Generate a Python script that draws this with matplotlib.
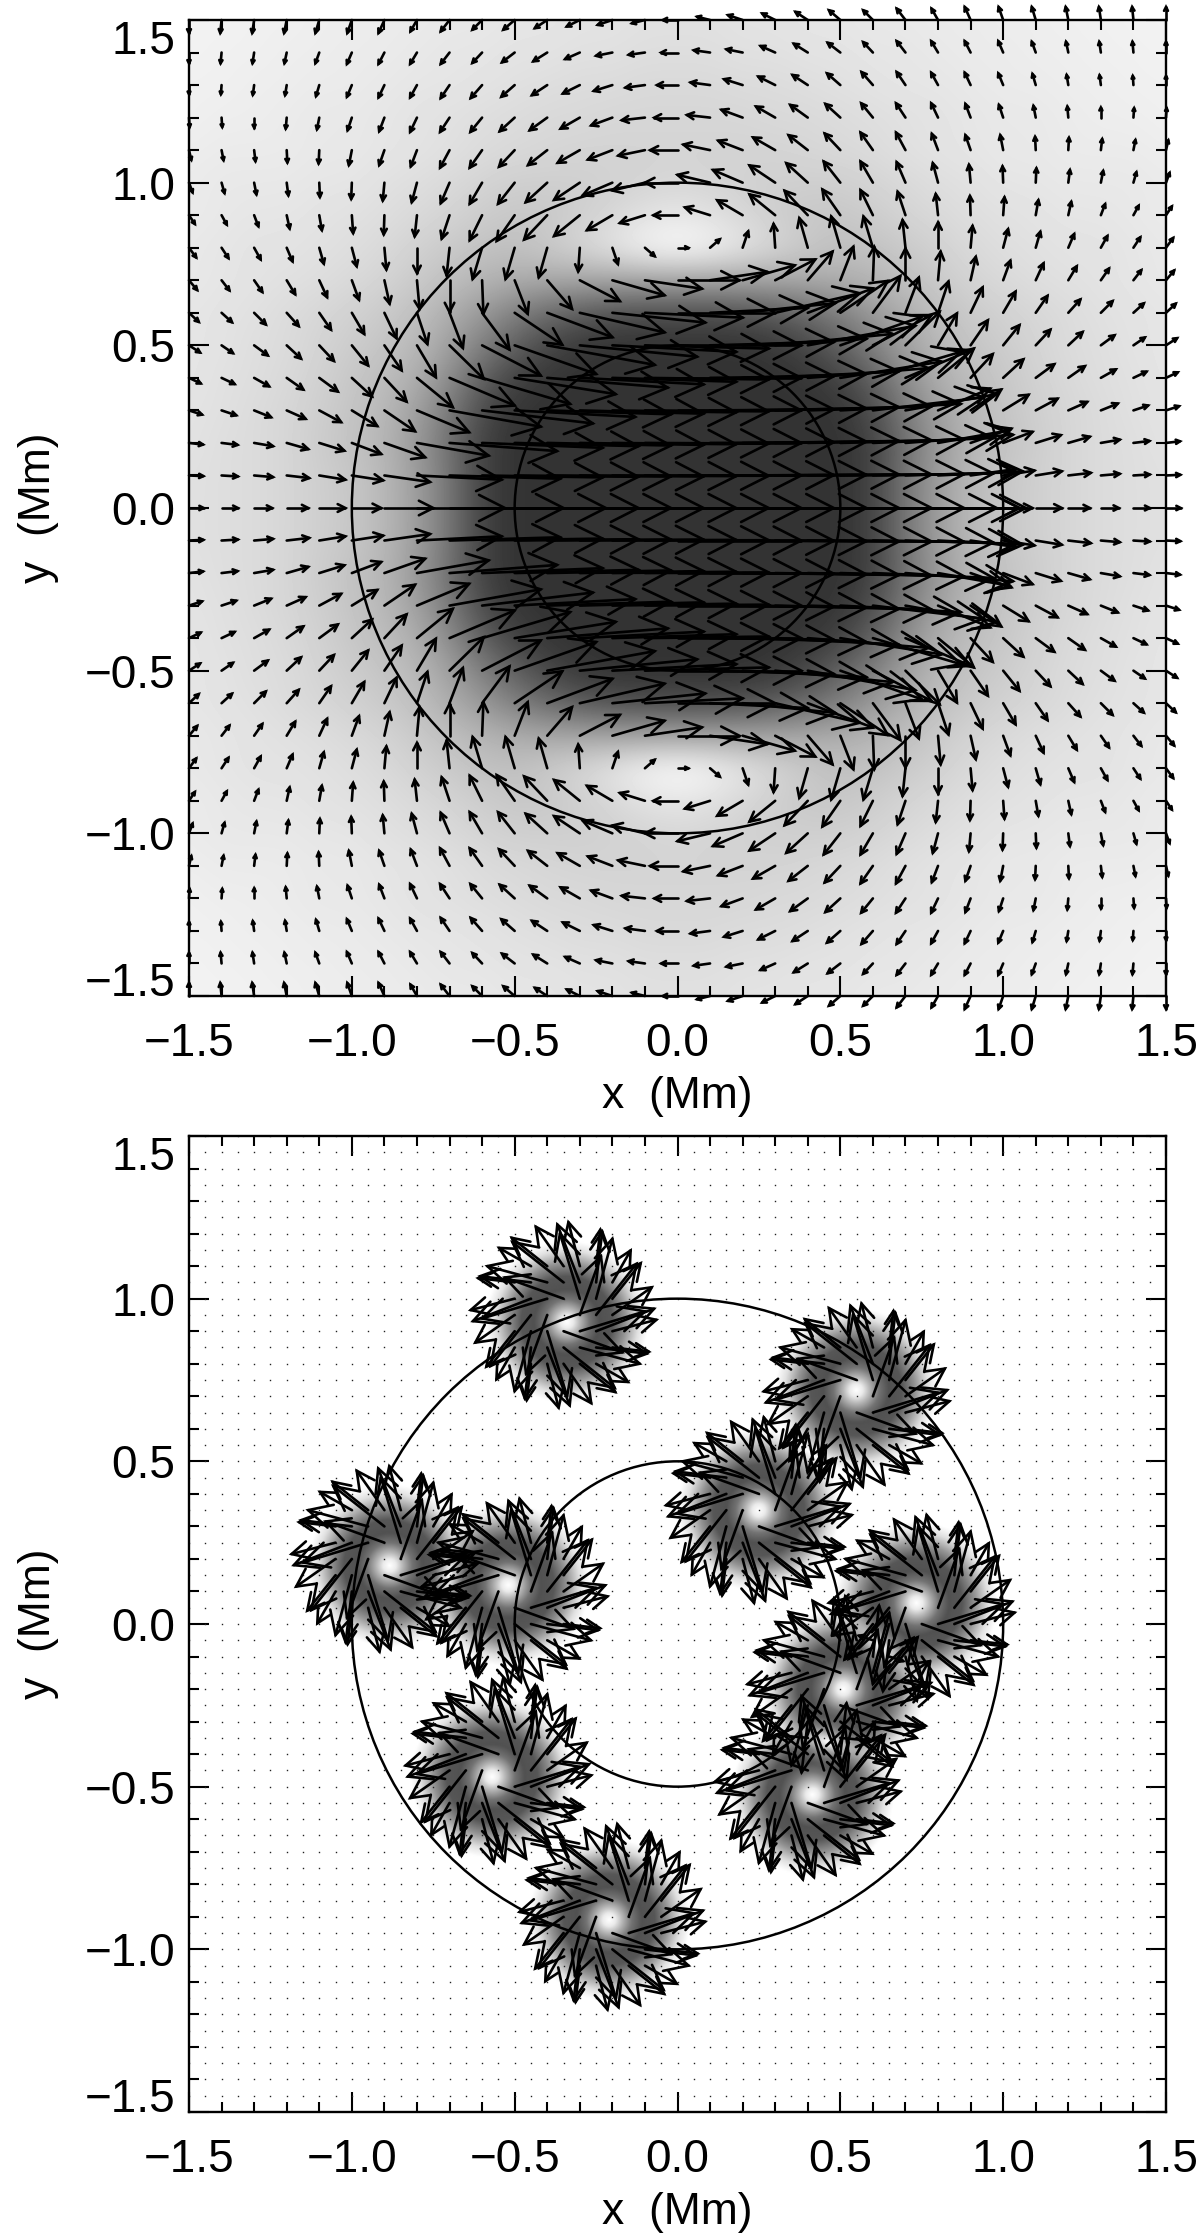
import numpy as np
import matplotlib
matplotlib.use("Agg")
from matplotlib import pyplot as plt
from matplotlib.collections import LineCollection
from matplotlib.patches import Circle

plt.rcParams['font.family'] = ['Liberation Sans', 'DejaVu Sans']

# upper panel, quadrant x>=0, y>=0 (0.001 Mm)
# rows y = 1.5 ... 0.0, columns x = 0.0 ... 1.5
top_u = [
    [-45, -40, -45, -40, -38, -35, -30, -27, -20, -18, -14, -12, -8, -6, -4, 0],
    [-50, -50, -50, -45, -43, -39, -30, -27, -21, -18, -15, -12, -7, -5, -3, 0],
    [-63, -60, -57, -52, -47, -41, -35, -27, -21, -18, -15, -10, -5, -4, -2, 0],
    [-71, -71, -65, -59, -54, -46, -36, -29, -21, -16, -13, -7, -3, 0, 2, 2],
    [-84, -82, -75, -68, -59, -48, -38, -29, -19, -16, -9, -2, 2, 4, 6, 7],
    [-100, -100, -91, -79, -66, -51, -38, -27, -16, -5, -2, 2, 5, 7, 9, 11],
    [-74, -77, -78, -79, -71, -55, -38, -24, -7, -2, 4, 8, 9, 13, 16, 18],
    [33, 30, 17, -5, -26, -28, -29, -9, 0, 6, 15, 14, 18, 20, 21, 22],
    [190, 175, 160, 123, 76, 40, 4, 0, 8, 16, 22, 24, 26, 25, 24, 25],
    [300, 300, 285, 260, 200, 146, 84, 41, 32, 37, 38, 36, 37, 36, 32, 30],
    [380, 380, 380, 360, 330, 250, 180, 105, 58, 53, 50, 45, 44, 42, 35, 34],
    [380, 380, 380, 380, 370, 310, 270, 200, 110, 68, 62, 57, 51, 46, 40, 36],
    [380, 380, 380, 380, 380, 370, 340, 280, 160, 94, 78, 67, 58, 52, 45, 40],
    [380, 380, 380, 380, 380, 380, 370, 330, 220, 125, 90, 77, 66, 58, 49, 43],
    [380, 380, 380, 380, 380, 380, 370, 340, 260, 140, 96, 80, 69, 58, 50, 44],
    [380, 380, 380, 380, 380, 380, 380, 350, 270, 150, 90, 80, 66, 55, 50, 45],
]
top_v = [
    [0, 10, 15, 20, 25, 30, 30, 35, 35, 40, 40, 40, 40, 40, 40, 40],
    [0, 7, 10, 20, 27, 30, 32, 35, 35, 35, 35, 33, 33, 33, 33, 33],
    [0, 8, 18, 26, 31, 36, 40, 40, 38, 38, 36, 34, 31, 30, 28, 28],
    [0, 8, 24, 34, 39, 42, 44, 44, 44, 42, 39, 36, 34, 31, 29, 29],
    [0, 17, 29, 39, 46, 51, 54, 54, 50, 46, 46, 41, 38, 34, 31, 30],
    [0, 24, 39, 53, 60, 65, 65, 63, 60, 55, 50, 44, 39, 36, 32, 30],
    [0, 24, 46, 64, 75, 79, 77, 72, 65, 59, 55, 46, 41, 34, 29, 27],
    [0, 26, 50, 73, 91, 96, 96, 85, 78, 67, 57, 49, 42, 36, 32, 30],
    [0, 26, 46, 64, 88, 103, 103, 98, 88, 72, 60, 52, 43, 36, 31, 30],
    [0, 15, 30, 60, 75, 98, 113, 108, 96, 78, 65, 52, 41, 36, 29, 28],
    [0, 10, 20, 35, 60, 88, 93, 103, 98, 77, 62, 48, 41, 31, 24, 22],
    [0, 5, 12, 20, 30, 50, 80, 85, 90, 73, 57, 42, 36, 26, 19, 17],
    [0, 3, 6, 10, 12, 20, 40, 50, 67, 64, 48, 36, 26, 21, 15, 13],
    [0, 2, 4, 6, 8, 10, 15, 25, 39, 44, 34, 24, 19, 10, 6, 5],
    [0, 1, 2, 3, 3, 4, 6, 10, 13, 20, 15, 13, 8, 5, 3, 2],
    [0] * 16,
]
# grey level of the upper panel in percent, same grid
top_grey = [
    [88, 88, 89, 89, 90, 90, 91, 91, 92, 92, 93, 93, 94, 94, 95, 95],
    [87, 87, 88, 88, 89, 89, 90, 90, 91, 92, 92, 93, 93, 94, 94, 95],
    [85, 85, 86, 86, 87, 88, 89, 90, 90, 91, 92, 92, 93, 93, 94, 94],
    [84, 84, 84, 85, 85, 86, 87, 88, 89, 90, 91, 91, 92, 93, 93, 94],
    [83, 83, 83, 83, 84, 85, 86, 88, 89, 90, 91, 91, 92, 92, 92, 93],
    [84, 83, 82, 81, 81, 81, 83, 85, 87, 88, 90, 90, 91, 91, 91, 92],
    [90, 88, 84, 81, 78, 78, 80, 83, 85, 87, 88, 89, 90, 90, 91, 92],
    [99, 96, 90, 84, 79, 75, 76, 79, 82, 85, 87, 88, 89, 89, 90, 91],
    [64, 64, 64, 65, 66, 68, 71, 75, 79, 83, 85, 87, 88, 89, 90, 91],
    [30, 30, 32, 36, 42, 50, 60, 68, 75, 79, 82, 84, 86, 88, 89, 90],
    [20, 20, 20, 22, 28, 38, 50, 63, 72, 77, 80, 83, 86, 87, 89, 90],
    [20, 20, 20, 20, 21, 26, 38, 55, 68, 74, 78, 82, 85, 87, 88, 90],
    [20, 20, 20, 20, 20, 21, 30, 48, 63, 72, 77, 81, 84, 86, 88, 89],
    [20, 20, 20, 20, 20, 20, 26, 44, 60, 71, 76, 80, 84, 86, 87, 89],
    [20, 20, 20, 20, 20, 20, 26, 46, 62, 72, 78, 81, 84, 86, 87, 88],
    [20, 20, 20, 20, 20, 20, 26, 46, 62, 72, 78, 81, 84, 86, 87, 88],
]

# lower panel: vortex positions (Mm)
vortex_x = [-0.34, 0.55, 0.25, -0.885, -0.52, 0.735, 0.51, 0.415, -0.57, -0.21]
vortex_y = [0.93, 0.72, 0.35, 0.18, 0.12, 0.065, -0.20, -0.525, -0.47, -0.91]

# arrows around one vortex (0.01 Mm), columns dx = 0.05 ... 0.15, rows dy = 0 ... 0.15
# the other three quadrants are the same table turned by 90 degrees
swirl_u = [
    [6.5, 12.4, 12.1],
    [-6.1, 5.0, 8.7],
    [-6.9, 1.9, 5.6],
    [-3.5, 1.3, 0.0],
]
swirl_v = [
    [18.0, 15.7, 8.5],
    [20.0, 18.4, 10.9],
    [17.8, 15.6, 9.8],
    [13.5, 11.2, 0.0],
]
# swirl strength against distance from a vortex centre
swirl_r = [0, 0.02, 0.04, 0.07, 0.10, 0.14, 0.18, 0.22, 0.25]
swirl_s = [0, 0.08, 0.28, 0.55, 0.68, 0.66, 0.42, 0.12, 0]

circle_r = [1.0, 0.5]
major = [-1.5, -1.0, -0.5, 0.0, 0.5, 1.0, 1.5]
major_labels = ['\u22121.5', '\u22121.0', '\u22120.5', '0.0', '0.5', '1.0', '1.5']


def mirror_even(q):
    q = np.array(q, dtype=float)[::-1]       # now y = 0 ... 1.5
    right = np.hstack([q[:, :0:-1], q])
    return np.vstack([right[:0:-1], right])


def mirror_odd(q):
    q = np.array(q, dtype=float)[::-1]
    right = np.hstack([-q[:, :0:-1], q])
    return np.vstack([-right[:0:-1], right])


def arrows(x, y, u, v, frac=0.33):
    # open-head arrows with the tail on the grid point
    x, y, u, v = [np.ravel(a) for a in (x, y, u, v)]
    ln = np.hypot(u, v)
    keep = ln > 0.004
    x, y, u, v, ln = x[keep], y[keep], u[keep], v[keep], ln[keep]
    head = np.minimum(frac * ln, 0.095)
    ang = np.arctan2(v, u)
    segs = []
    for i in range(len(x)):
        tip = (x[i] + u[i], y[i] + v[i])
        a1 = ang[i] + np.pi - 0.47
        a2 = ang[i] + np.pi + 0.47
        b1 = (tip[0] + head[i] * np.cos(a1), tip[1] + head[i] * np.sin(a1))
        b2 = (tip[0] + head[i] * np.cos(a2), tip[1] + head[i] * np.sin(a2))
        segs.append([(x[i], y[i]), tip])
        segs.append([b1, tip, b2])
    return LineCollection(segs, colors='k', linewidths=1.9, capstyle='round',
                          joinstyle='miter', clip_on=False, zorder=4)


def style(ax):
    ax.set_xlim(-1.5, 1.5)
    ax.set_ylim(-1.5, 1.5)
    minor = np.round(np.arange(-1.5, 1.51, 0.1), 1)
    for axis in (ax.xaxis, ax.yaxis):
        axis.set_ticks(minor, minor=True)
        axis.set_ticks(major, labels=major_labels)
    ax.tick_params(which='both', direction='in', top=True, right=True, width=1.5)
    ax.tick_params(which='major', length=14.5, labelsize=33)
    ax.tick_params(which='minor', length=7.2)
    ax.tick_params(axis='x', pad=19)
    ax.tick_params(axis='y', pad=10)
    ticks = ax.get_yticklabels()
    ticks[0].set_verticalalignment('baseline')
    ticks[-1].set_verticalalignment('top')
    for s in ax.spines.values():
        s.set_linewidth(1.7)
        s.set_zorder(5)
    ax.set_xlabel('x  (Mm)', fontsize=32, labelpad=7)
    ax.set_ylabel('y  (Mm)', fontsize=32, labelpad=18)
    for r in circle_r:
        ax.add_patch(Circle((0, 0), r, fill=False, ec='k', lw=1.8, zorder=3))


fig = plt.figure(figsize=(12, 22.38), dpi=100)
ax1 = fig.add_axes([189 / 1200, 1 - 996 / 2238, 977 / 1200, 976 / 2238])
ax2 = fig.add_axes([189 / 1200, 1 - 2112 / 2238, 977 / 1200, 976 / 2238])

# upper panel
grid = np.round(np.arange(-1.5, 1.51, 0.1), 1)
gx, gy = np.meshgrid(grid, grid)
ax1.imshow(mirror_even(top_grey) / 100, cmap='gray', vmin=0, vmax=1, origin='lower',
           extent=[-1.55, 1.55, -1.55, 1.55], interpolation='bicubic', aspect='auto', zorder=1)
ax1.add_collection(arrows(gx, gy, mirror_even(top_u) / 1000, mirror_odd(top_v) / 1000))
style(ax1)

# lower panel
xx = np.linspace(-1.5, 1.5, 801)
px, py = np.meshgrid(xx, xx)
bx = np.zeros_like(px)
by = np.zeros_like(px)
for cx, cy in zip(vortex_x, vortex_y):
    dx, dy = px - cx, py - cy
    r = np.hypot(dx, dy) + 1e-9
    s = np.interp(r, swirl_r, swirl_s)
    bx += -s * dy / r
    by += s * dx / r
ax2.imshow(1 - np.minimum(np.hypot(bx, by), 0.8), cmap='gray', vmin=0, vmax=1, origin='lower',
           extent=[-1.5, 1.5, -1.5, 1.5], interpolation='bilinear', aspect='auto', zorder=1)

fine = np.round(np.arange(-1.5, 1.501, 0.05), 2)
fx, fy = np.meshgrid(fine, fine)
fu = np.zeros_like(fx)
fv = np.zeros_like(fx)
su = np.array(swirl_u) / 100
sv = np.array(swirl_v) / 100
for cx, cy in zip(vortex_x, vortex_y):
    ci = int(round((cx + 1.5) / 0.05))
    cj = int(round((cy + 1.5) / 0.05))
    for j in range(su.shape[0]):
        for i in range(su.shape[1]):
            di, dj = i + 1, j
            u, v = su[j, i], sv[j, i]
            for turn in range(4):
                fu[cj + dj, ci + di] += u
                fv[cj + dj, ci + di] += v
                di, dj, u, v = -dj, di, -v, u
ax2.plot(fx.ravel(), fy.ravel(), ls='none', marker='s', ms=1.0, mew=0, color='#222222', zorder=2)
ax2.add_collection(arrows(fx, fy, fu, fv, frac=0.42))
style(ax2)

fig.savefig('out.png', dpi=100)
